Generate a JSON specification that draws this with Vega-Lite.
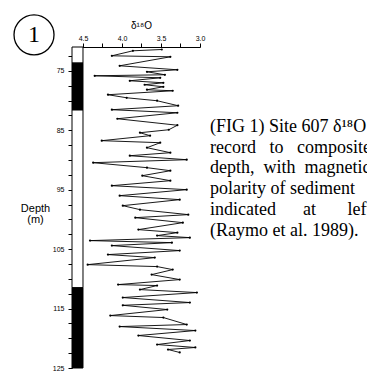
{
  "$schema": "https://vega.github.io/schema/vega-lite/v6.json",
  "width": 128,
  "height": 321,
  "autosize": {"type": "none"},
  "padding": {"left": 72, "top": 47, "right": 167, "bottom": 8},
  "background": "white",
  "config": {
    "view": {"stroke": null},
    "axis": {
      "domainColor": "black",
      "tickColor": "black",
      "labelColor": "black",
      "titleColor": "black",
      "labelFont": "Liberation Sans",
      "titleFont": "Liberation Sans",
      "grid": false,
      "labelFlush": false,
      "labelOverlap": false
    }
  },
  "layer": [
    {
      "data": {"values": [
        {"depth": 71.42, "d18O": 3.49}, {"depth": 71.64, "d18O": 3.86}, {"depth": 72.48, "d18O": 4.13}, {"depth": 72.65, "d18O": 3.38},
        {"depth": 74.16, "d18O": 4.03}, {"depth": 74.83, "d18O": 3.29}, {"depth": 75.17, "d18O": 3.68}, {"depth": 75.67, "d18O": 3.45},
        {"depth": 75.84, "d18O": 4.35}, {"depth": 76.18, "d18O": 3.51}, {"depth": 76.68, "d18O": 3.90}, {"depth": 77.02, "d18O": 3.47},
        {"depth": 77.35, "d18O": 3.71}, {"depth": 77.69, "d18O": 3.47}, {"depth": 78.19, "d18O": 3.68}, {"depth": 78.36, "d18O": 3.35},
        {"depth": 79.03, "d18O": 4.18}, {"depth": 79.54, "d18O": 3.94}, {"depth": 80.04, "d18O": 3.55}, {"depth": 80.88, "d18O": 3.28},
        {"depth": 81.55, "d18O": 4.13}, {"depth": 82.06, "d18O": 3.29}, {"depth": 83.07, "d18O": 4.06}, {"depth": 84.16, "d18O": 3.29},
        {"depth": 84.92, "d18O": 3.40}, {"depth": 85.42, "d18O": 3.77}, {"depth": 85.92, "d18O": 3.64}, {"depth": 86.76, "d18O": 4.26},
        {"depth": 87.10, "d18O": 3.51}, {"depth": 87.94, "d18O": 3.68}, {"depth": 88.78, "d18O": 3.38}, {"depth": 89.29, "d18O": 3.90},
        {"depth": 89.96, "d18O": 3.17}, {"depth": 90.46, "d18O": 4.37}, {"depth": 91.30, "d18O": 3.68}, {"depth": 91.81, "d18O": 3.38},
        {"depth": 92.65, "d18O": 3.74}, {"depth": 93.49, "d18O": 3.38}, {"depth": 94.33, "d18O": 4.13}, {"depth": 95.00, "d18O": 3.17},
        {"depth": 96.01, "d18O": 4.03}, {"depth": 96.68, "d18O": 3.26}, {"depth": 97.69, "d18O": 3.99}, {"depth": 98.36, "d18O": 3.77},
        {"depth": 99.20, "d18O": 3.15}, {"depth": 99.71, "d18O": 3.83}, {"depth": 100.55, "d18O": 3.22}, {"depth": 101.72, "d18O": 3.79},
        {"depth": 102.23, "d18O": 3.29}, {"depth": 102.73, "d18O": 3.55}, {"depth": 103.07, "d18O": 3.13}, {"depth": 103.57, "d18O": 4.41},
        {"depth": 103.91, "d18O": 3.36}, {"depth": 104.41, "d18O": 4.13}, {"depth": 105.25, "d18O": 3.26}, {"depth": 105.92, "d18O": 4.18},
        {"depth": 106.43, "d18O": 3.58}, {"depth": 107.61, "d18O": 4.44}, {"depth": 107.94, "d18O": 3.55}, {"depth": 108.45, "d18O": 3.35},
        {"depth": 109.29, "d18O": 3.62}, {"depth": 110.13, "d18O": 3.26}, {"depth": 110.97, "d18O": 4.05}, {"depth": 111.13, "d18O": 3.55},
        {"depth": 111.81, "d18O": 3.77}, {"depth": 112.31, "d18O": 3.04}, {"depth": 113.15, "d18O": 3.99}, {"depth": 113.99, "d18O": 3.13},
        {"depth": 114.45, "d18O": 3.99}, {"depth": 115.17, "d18O": 3.42}, {"depth": 116.18, "d18O": 4.15}, {"depth": 116.51, "d18O": 3.47},
        {"depth": 117.69, "d18O": 3.17}, {"depth": 118.03, "d18O": 4.03}, {"depth": 118.70, "d18O": 3.06}, {"depth": 119.54, "d18O": 3.79},
        {"depth": 120.38, "d18O": 3.13}, {"depth": 121.05, "d18O": 3.55}, {"depth": 121.55, "d18O": 3.06}, {"depth": 121.89, "d18O": 3.41},
        {"depth": 122.39, "d18O": 3.26}
      ]},
      "mark": {"type": "line", "color": "black", "strokeWidth": 0.9, "point": {"filled": true, "size": 5, "color": "black"}},
      "encoding": {
        "x": {
          "field": "d18O", "type": "quantitative",
          "scale": {"domain": [3.0, 4.641], "reverse": true, "nice": false, "zero": false},
          "axis": {
            "orient": "top",
            "values": [3.0, 3.25, 3.5, 3.75, 4.0, 4.25, 4.5],
            "tickCount": 100,
            "labelExpr": "abs(datum.value*2 - round(datum.value*2)) < 0.01 ? format(datum.value, '.1f') : ''",
            "labelFontSize": 7,
            "tickSize": 4,
            "labelPadding": 2,
            "title": "δ¹⁸O",
            "titleFontSize": 10,
            "titleFontWeight": "normal",
            "titleX": 69,
            "titleY": -22,
            "titleAlign": "center",
            "titleBaseline": "middle"
          }
        },
        "y": {
          "field": "depth", "type": "quantitative",
          "scale": {"domain": [71, 125], "reverse": true, "nice": false, "zero": false},
          "axis": {
            "values": [72.5, 75, 77.5, 80, 82.5, 85, 87.5, 90, 92.5, 95, 97.5, 100, 102.5, 105, 107.5, 110, 112.5, 115, 117.5, 120, 122.5, 125],
            "tickCount": 100,
            "labelExpr": "abs((datum.value - 75) % 10) < 0.01 ? format(datum.value, 'd') : ''",
            "labelFontSize": 7,
            "tickSize": 4,
            "labelPadding": 4,
            "title": ["Depth", "(m)"],
            "titleFontSize": 11,
            "titleFontWeight": "normal",
            "titleAngle": 0,
            "titleX": -37,
            "titleY": 161,
            "titleAlign": "center",
            "titleBaseline": "middle",
            "titleLineHeight": 11
          }
        },
        "order": {"field": "depth", "type": "quantitative"}
      }
    },
    {
      "data": {"values": [
        {"top": 71, "bottom": 73.7, "polarity": "reversed"},
        {"top": 73.7, "bottom": 81.6, "polarity": "normal"},
        {"top": 81.6, "bottom": 111.5, "polarity": "reversed"},
        {"top": 111.5, "bottom": 125, "polarity": "normal"}
      ]},
      "mark": {"type": "rect", "stroke": "black", "strokeWidth": 1},
      "encoding": {
        "x": {"datum": 4.641, "type": "quantitative"},
        "x2": {"datum": 4.5},
        "y": {"field": "top", "type": "quantitative"},
        "y2": {"field": "bottom"},
        "fill": {"field": "polarity", "type": "nominal", "scale": {"domain": ["normal", "reversed"], "range": ["black", "white"]}, "legend": null}
      }
    },
    {
      "data": {"values": [{"label": "1"}]},
      "mark": {"type": "point", "shape": "circle", "filled": false, "size": 1600, "stroke": "black", "strokeWidth": 1.3, "opacity": 1},
      "encoding": {
        "x": {"datum": 5.128, "type": "quantitative"},
        "y": {"datum": 68.95, "type": "quantitative"}
      }
    },
    {
      "data": {"values": [{"label": "1"}]},
      "mark": {"type": "text", "font": "Liberation Serif", "fontSize": 24, "align": "center", "baseline": "middle", "color": "black"},
      "encoding": {
        "x": {"datum": 5.128, "type": "quantitative"},
        "y": {"datum": 69.0, "type": "quantitative"},
        "text": {"field": "label"}
      }
    },
    {
      "data": {"values": [{"caption": "(FIG 1) Site 607 δ¹⁸O\nrecord\u00a0\u00a0 to\u00a0\u00a0 composite\ndepth,\u00a0 with\u00a0 magnetic\npolarity of sediment\nindicated\u00a0\u00a0\u00a0\u00a0\u00a0 at\u00a0\u00a0\u00a0\u00a0\u00a0\u00a0 left\n(Raymo et al. 1989)."}]},
      "mark": {"type": "text", "font": "Liberation Serif", "fontSize": 18, "align": "left", "baseline": "alphabetic", "lineBreak": "\n", "lineHeight": 20.8, "color": "black"},
      "encoding": {
        "x": {"datum": 2.872, "type": "quantitative"},
        "y": {"datum": 85.25, "type": "quantitative"},
        "text": {"field": "caption"}
      }
    }
  ]
}
